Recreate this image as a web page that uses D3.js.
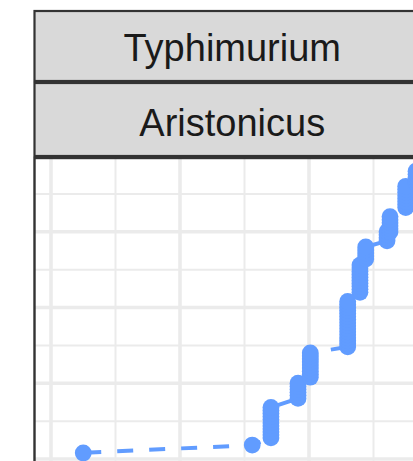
<!DOCTYPE html>
<html>
<head>
<meta charset="utf-8">
<script src="https://cdn.jsdelivr.net/npm/d3@7"></script>
<style>
  html, body { margin: 0; padding: 0; background: #ffffff; }
  svg { display: block; }
</style>
</head>
<body>
<svg id="chart" width="413" height="461"></svg>
<script>
// Facet strip labels
const stripLabels = ["Typhimurium", "Aristonicus"];

// Grid tick values
const xMajorTicks = [0, 10, 20];
const xMinorTicks = [5, 15, 25];
const yMajorTicks = [0, 25, 50, 75, 100];
const yMinorTicks = [12.5, 37.5, 62.5, 87.5];

// Series values
const xVals = [
  2.5, 15.6,
  17.05, 17.05, 17.05, 17.05, 17.05, 17.05, 17.05, 17.05, 17.05, 17.05, 17.05,
  19.15, 19.15, 19.15, 19.15, 19.15, 19.15,
  20.1, 20.1, 20.1, 20.1, 20.1, 20.1, 20.1, 20.1, 20.1,
  23.0, 23.0, 23.0, 23.0, 23.0, 23.0, 23.0, 23.0, 23.0, 23.0, 23.0, 23.0, 23.0, 23.0, 23.0, 23.0,
  23.95, 23.95, 23.95, 23.95, 23.95, 23.95, 23.95, 23.95, 23.95, 23.95,
  24.4, 24.4, 24.4, 24.4, 24.4,
  26.05, 26.05, 26.05, 26.05,
  26.28, 26.28, 26.28, 26.28, 26.28, 26.28,
  27.5, 27.5, 27.5, 27.5, 27.5, 27.5, 27.5, 27.5,
  28.3, 28.3, 28.3, 28.3, 28.3,
  29.2, 29.2, 29.2
];
const yVals = [
  2, 4.6,
  7, 8, 9, 10, 11, 12, 13, 14, 15, 16, 17,
  20, 21, 22, 23, 24, 25,
  27, 28, 29, 30, 31, 32, 33, 34, 35,
  37, 38, 39, 40, 41, 42, 43, 44, 45, 46, 47, 48, 49, 50, 51, 52,
  55, 56, 57, 58, 59, 60, 61, 62, 63, 64,
  66, 67, 68, 69, 70,
  72, 73, 74, 75,
  75, 76, 77, 78, 79, 80,
  83, 84, 85, 86, 87, 88, 89, 90,
  91, 92, 93, 94, 95,
  97, 98, 99
];

const data = xVals.map((x, i) => ({ x: x, y: yVals[i] }));

const svg = d3.select("#chart");

// Panel geometry
const panel = { left: 34.5, right: 431, top: 158, bottom: 478 };

const x = d3.scaleLinear().domain([0, 20]).range([51, 309]);
const y = d3.scaleLinear().domain([0, 100]).range([459, 156]);

// Strips
const strips = [
  { label: stripLabels[0], y0: 11, y1: 81, base: 61 },
  { label: stripLabels[1], y0: 83, y1: 156, base: 135.5 }
];
strips.forEach(s => {
  svg.append("rect")
    .attr("x", panel.left).attr("y", s.y0)
    .attr("width", panel.right - panel.left).attr("height", s.y1 - s.y0)
    .attr("fill", "#D9D9D9").attr("stroke", "#333333").attr("stroke-width", 2.2);
  svg.append("text")
    .attr("x", (panel.left + panel.right) / 2 - 0.5)
    .attr("y", s.base)
    .attr("text-anchor", "middle")
    .attr("font-family", "'Liberation Sans', Arial, sans-serif")
    .attr("font-size", 38)
    .attr("fill", "#1A1A1A")
    .text(s.label);
});

// Panel background + clip
svg.append("defs").append("clipPath").attr("id", "pclip")
  .append("rect")
  .attr("x", panel.left).attr("y", panel.top)
  .attr("width", panel.right - panel.left).attr("height", panel.bottom - panel.top);

svg.append("rect")
  .attr("x", panel.left).attr("y", panel.top)
  .attr("width", panel.right - panel.left).attr("height", panel.bottom - panel.top)
  .attr("fill", "#ffffff");

const g = svg.append("g").attr("clip-path", "url(#pclip)");

// Minor grid
g.selectAll(".xminor").data(xMinorTicks).enter().append("line")
  .attr("x1", d => x(d)).attr("x2", d => x(d))
  .attr("y1", panel.top).attr("y2", panel.bottom)
  .attr("stroke", "#EBEBEB").attr("stroke-width", 2);
g.selectAll(".yminor").data(yMinorTicks).enter().append("line")
  .attr("y1", d => y(d)).attr("y2", d => y(d))
  .attr("x1", panel.left).attr("x2", panel.right)
  .attr("stroke", "#EBEBEB").attr("stroke-width", 2);
// Major grid
g.selectAll(".xmajor").data(xMajorTicks).enter().append("line")
  .attr("x1", d => x(d)).attr("x2", d => x(d))
  .attr("y1", panel.top).attr("y2", panel.bottom)
  .attr("stroke", "#EBEBEB").attr("stroke-width", 3.6);
g.selectAll(".ymajor").data(yMajorTicks).enter().append("line")
  .attr("y1", d => y(d)).attr("y2", d => y(d))
  .attr("x1", panel.left).attr("x2", panel.right)
  .attr("stroke", "#EBEBEB").attr("stroke-width", 3.6);

const col = "#619CFF";

// Dashed line
const line = d3.line().x(d => x(d.x)).y(d => y(d.y));
g.append("path")
  .datum(data)
  .attr("d", line)
  .attr("fill", "none")
  .attr("stroke", col)
  .attr("stroke-width", 4)
  .attr("stroke-dasharray", "16,16")
  .attr("stroke-dashoffset", 30);

// Points
g.selectAll("circle").data(data).enter().append("circle")
  .attr("cx", d => x(d.x)).attr("cy", d => y(d.y))
  .attr("r", 8.4)
  .attr("fill", col);

// Panel border
svg.append("rect")
  .attr("x", panel.left).attr("y", panel.top)
  .attr("width", panel.right - panel.left).attr("height", panel.bottom - panel.top)
  .attr("fill", "none").attr("stroke", "#333333").attr("stroke-width", 2.4);
</script>
</body>
</html>
